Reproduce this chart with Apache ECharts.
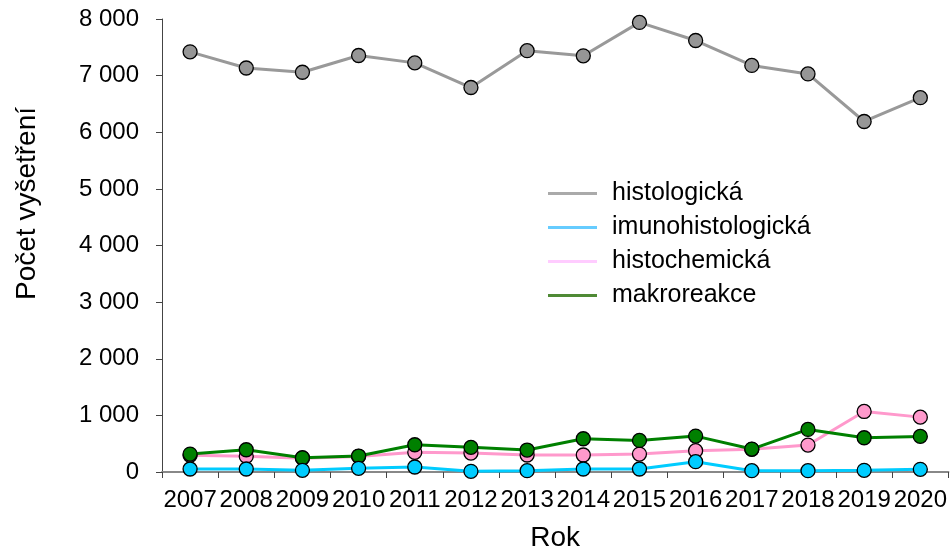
<!DOCTYPE html>
<html><head><meta charset="utf-8">
<script src="https://cdn.jsdelivr.net/npm/echarts@6/dist/echarts.min.js"></script>
<style>html,body{margin:0;padding:0;background:#fff}#c{width:950px;height:557px}</style>
</head><body><div id="c"></div>
<script>
const years = ['2007','2008','2009','2010','2011','2012','2013','2014','2015','2016','2017','2018','2019','2020'];
const histologicka = [7420,7135,7060,7355,7225,6790,7440,7350,7940,7620,7180,7030,6190,6610];
const imunohistologicka = [53,53,30,65,88,12,23,53,53,182,23,23,30,47];
const histochemicka = [294,276,245,275,347,335,300,300,317,376,400,476,1069,969];
const makroreakce = [317,393,252,282,481,435,388,587,558,634,405,752,605,629];
const yTicks = {min:0, max:8000, interval:1000};

const fmt = v => { const s = String(Math.round(v)); return s.replace(/\B(?=(\d{3})+(?!\d))/g, ' '); };
const font = 'Liberation Sans, Arial, sans-serif';
const chart = echarts.init(document.getElementById('c'), null, {renderer:'canvas'});
function ser(name, data, line, fill, z){
  return {name, type:'line', data, z, symbol:'circle', symbolSize:14,
    lineStyle:{color:line, width:3}, itemStyle:{color:fill, borderColor:'#000', borderWidth:1.3},
    emphasis:{disabled:true}, animation:false};
}
chart.setOption({
  animation:false,
  grid:{left:162, right:1, top:19, bottom:84, containLabel:false},
  legend:{orient:'vertical', left:543, top:176, icon:'rect', itemWidth:49, itemHeight:3, itemGap:9,
    itemStyle:{borderWidth:0},
    textStyle:{fontFamily:font, fontSize:25, color:'#000', padding:[0,0,0,10]},
    data:[{name:'histologická', itemStyle:{color:'#aaaaaa', borderWidth:0}},
          {name:'imunohistologická', itemStyle:{color:'#66ccff', borderWidth:0}},
          {name:'histochemická', itemStyle:{color:'#ffccff', borderWidth:0}},
          {name:'makroreakce', itemStyle:{color:'#4f8a35', borderWidth:0}}]},
  xAxis:{type:'category', data:years, boundaryGap:true,
    name:'Rok', nameLocation:'middle', nameGap:52, nameTextStyle:{fontFamily:font, fontSize:28, color:'#000'},
    axisLine:{lineStyle:{color:'#888', width:2}},
    axisTick:{show:true, interval:0, length:6, lineStyle:{color:'#444'}},
    axisLabel:{interval:0, fontFamily:font, fontSize:24, color:'#000', margin:16}},
  yAxis:{type:'value', min:yTicks.min, max:yTicks.max, interval:yTicks.interval,
    name:'Počet vyšetření', nameLocation:'middle', nameGap:121,
    nameTextStyle:{fontFamily:font, fontSize:28, color:'#000', padding:[0,0,0,84]},
    axisLine:{show:true, lineStyle:{color:'#444', width:1}},
    axisTick:{show:true, length:6, lineStyle:{color:'#444'}},
    splitLine:{show:false},
    axisLabel:{formatter:fmt, fontFamily:font, fontSize:24, color:'#000', margin:23}},
  series:[
    ser('histologická', histologicka, '#999999', '#969696', 2),
    ser('imunohistologická', imunohistologicka, '#00ccff', '#00ccff', 5),
    ser('histochemická', histochemicka, '#ff99cc', '#ff99cc', 3),
    ser('makroreakce', makroreakce, '#008000', '#008000', 4)
  ]
});
</script></body></html>
